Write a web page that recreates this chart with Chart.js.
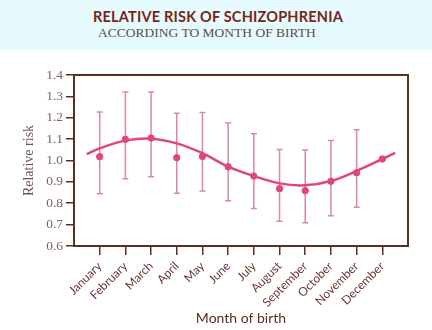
<!DOCTYPE html>
<html>
<head>
<meta charset="utf-8">
<script src="https://cdn.jsdelivr.net/npm/chart.js@4/dist/chart.umd.min.js"></script>
<style>
  html, body { margin: 0; padding: 0; background: #fff; }
  #wrap { position: relative; width: 432px; height: 330px; overflow: hidden; }
  #band { position: absolute; left: 0; top: 0; width: 432px; height: 50px; background: #e6fbfd; }
  #title { position: absolute; left: 93px; top: 8px; font: bold 14.5px Lato, sans-serif; color: #7a2517; letter-spacing: 0.2px; white-space: nowrap; }
  #subtitle { position: absolute; left: 98px; top: 25px; font: 13.5px "Liberation Serif", serif; color: #5d4c4c; white-space: nowrap; }
  canvas { position: absolute; left: 0; top: 0; }
</style>
</head>
<body>
<div id="wrap">
  <div id="band"></div>
  <div id="title">RELATIVE RISK OF SCHIZOPHRENIA</div>
  <div id="subtitle">ACCORDING TO MONTH OF BIRTH</div>
  <canvas id="chart" width="432" height="330"></canvas>
</div>
<script>
// months on the x axis, placed at 1..12
const months = ['January', 'February', 'March', 'April', 'May', 'June',
  'July', 'August', 'September', 'October', 'November', 'December'];
// observed relative risk per month
const risk = [1.018, 1.099, 1.105, 1.013, 1.019, 0.971, 0.927, 0.868, 0.859, 0.903, 0.943, 1.007];
// 95% interval (December is the reference month, no bar)
const ciUpper = [1.227, 1.32, 1.32, 1.221, 1.225, 1.175, 1.125, 1.051, 1.049, 1.094, 1.144, null];
const ciLower = [0.845, 0.915, 0.924, 0.847, 0.857, 0.812, 0.775, 0.716, 0.709, 0.742, 0.781, null];
// fitted seasonal curve
const trendX = [0.5, 1, 2, 3, 4, 5, 6, 7, 8, 9, 10, 11, 12, 12.5];
const trendY = [1.03, 1.057, 1.093, 1.102, 1.08, 1.034, 0.971, 0.927, 0.893, 0.884, 0.904, 0.951, 1.007, 1.036];
const yTicks = [0.6, 0.7, 0.8, 0.9, 1.0, 1.1, 1.2, 1.3, 1.4];

const brown = '#5e2e22';
const pink = '#e0457b';
const barPink = '#d98aa2';

// error bars and frame, drawn through the scales
const errorBars = {
  id: 'errorBars',
  beforeDatasetsDraw(chart) {
    const { ctx, scales: { x, y } } = chart;
    ctx.save();
    ctx.strokeStyle = barPink;
    ctx.lineWidth = 1.5;
    risk.forEach((v, i) => {
      if (ciUpper[i] == null) return;
      const px = x.getPixelForValue(i + 1);
      const top = y.getPixelForValue(ciUpper[i]);
      const bot = y.getPixelForValue(ciLower[i]);
      ctx.beginPath();
      ctx.moveTo(px, top); ctx.lineTo(px, bot);
      ctx.moveTo(px - 3, top); ctx.lineTo(px + 3, top);
      ctx.moveTo(px - 3, bot); ctx.lineTo(px + 3, bot);
      ctx.stroke();
    });
    ctx.restore();
  },
  afterDraw(chart) {
    const { ctx, chartArea: a } = chart;
    ctx.save();
    ctx.strokeStyle = brown;
    ctx.lineWidth = 2;
    ctx.strokeRect(a.left, a.top, a.right - a.left, a.bottom - a.top);
    ctx.restore();
  }
};

new Chart(document.getElementById('chart'), {
  type: 'scatter',
  data: {
    datasets: [
      {
        type: 'line',
        data: trendX.map((x, i) => ({ x, y: trendY[i] })),
        borderColor: pink,
        borderWidth: 2.5,
        pointRadius: 0,
        tension: 0.4,
        fill: false
      },
      {
        data: risk.map((v, i) => ({ x: i + 1, y: v })),
        backgroundColor: pink,
        borderColor: pink,
        pointRadius: 3.2,
        pointHoverRadius: 3.2
      }
    ]
  },
  options: {
    responsive: false,
    animation: false,
    layout: { padding: { top: 75, right: 24, left: 0, bottom: 0 } },
    plugins: { legend: { display: false }, tooltip: { enabled: false } },
    scales: {
      x: {
        type: 'linear',
        min: 0,
        max: 13,
        afterBuildTicks(scale) {
          scale.ticks = months.map((m, i) => ({ value: i + 1 }));
        },
        afterFit(scale) { scale.height = 84; },
        border: { display: false },
        grid: { drawOnChartArea: false, drawTicks: true, tickLength: 9, color: brown, lineWidth: 1.5 },
        ticks: {
          autoSkip: false,
          minRotation: 45,
          maxRotation: 45,
          padding: 4,
          color: '#6a3a30',
          font: { family: 'Lato, sans-serif', size: 12 },
          callback: v => months[v - 1] || ''
        },
        title: {
          display: true,
          text: 'Month of birth',
          color: '#5e2e22',
          font: { family: 'Lato, sans-serif', size: 14 },
          padding: { top: 0, bottom: 3 }
        }
      },
      y: {
        min: 0.6,
        max: 1.4,
        afterBuildTicks(scale) {
          scale.ticks = yTicks.map(v => ({ value: v }));
        },
        afterFit(scale) { scale.width = 74; },
        border: { display: false },
        grid: { drawOnChartArea: false, drawTicks: true, tickLength: 8, color: brown, lineWidth: 1.5 },
        ticks: {
          padding: 3,
          color: '#7a6460',
          font: { family: '"Liberation Serif", serif', size: 13.5 },
          callback: v => v.toFixed(1)
        },
        title: {
          display: true,
          text: 'Relative risk',
          color: '#6a5550',
          font: { family: '"Liberation Serif", serif', size: 14 },
          padding: { top: 21, bottom: 0 }
        }
      }
    }
  },
  plugins: [errorBars]
});
</script>
</body>
</html>
